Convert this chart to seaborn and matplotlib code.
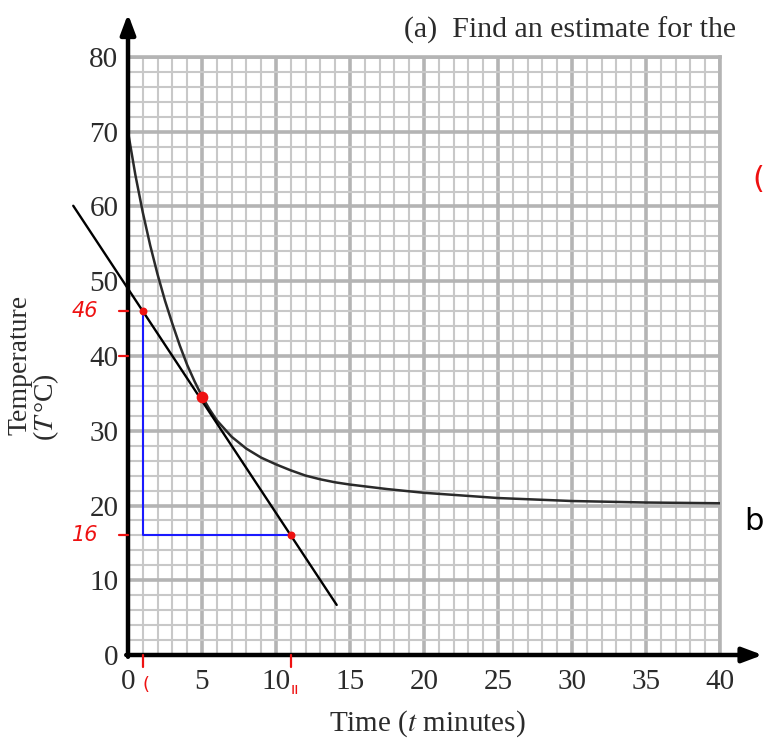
import matplotlib
matplotlib.use("Agg")
import matplotlib.pyplot as plt
import seaborn as sns
import pandas as pd
from matplotlib.ticker import MultipleLocator

# ---- data ----
time_min = [0, 0.5, 1, 1.5, 2, 2.5, 3, 3.5, 4, 4.5, 5, 5.5, 6, 7, 8, 9, 10, 11, 12, 13, 14, 15,
            17.5, 20, 25, 30, 35, 40]
temp_c = [70, 64.2, 59.2, 54.8, 50.9, 47.4, 44.3, 41.4, 38.8, 36.6, 34.6, 32.9, 31.4, 29.2, 27.6,
          26.4, 25.5, 24.7, 24.0, 23.5, 23.1, 22.8, 22.2, 21.7, 21.0, 20.6, 20.4, 20.3]
tangent_t = [-3.7, 14.1]
tangent_T = [60.1, 6.7]
marked_t = [1, 5, 11]
marked_T = [46, 34.5, 16]
x_ticks = [0, 5, 10, 15, 20, 25, 30, 35, 40]
y_ticks = [0, 10, 20, 30, 40, 50, 60, 70, 80]

sns.set_style("white")
plt.rcParams["font.family"] = ["Liberation Serif", "DejaVu Serif"]
plt.rcParams["mathtext.fontset"] = "stix"

fig = plt.figure(figsize=(7.66, 7.44), dpi=100)
ax = fig.add_axes([128 / 766, 89 / 744, 592 / 766, 598 / 744])
ax.set_xlim(0, 40)
ax.set_ylim(0, 80)

ax.xaxis.set_minor_locator(MultipleLocator(1))
ax.yaxis.set_minor_locator(MultipleLocator(2))
ax.set_xticks(x_ticks)
ax.set_yticks(y_ticks)
txtc = "#2b2b2b"
ax.set_xticklabels([str(v) for v in x_ticks], fontsize=21, color=txtc)
ax.set_yticklabels([str(v) for v in y_ticks], fontsize=21, color=txtc)
ax.tick_params(which="both", length=0)
ax.tick_params(axis="x", pad=10)
ax.tick_params(axis="y", pad=7)
ax.grid(which="minor", color="#c8c8c8", lw=1.5)
ax.grid(which="major", color="#b4b4b4", lw=2.6)
ax.set_axisbelow(True)
for s in ["left", "bottom"]:
    ax.spines[s].set_visible(False)
for s in ["top", "right"]:
    ax.spines[s].set_color("#b4b4b4")
    ax.spines[s].set_linewidth(2.6)

# axes arrows
ax.annotate("", xy=(0, 1.072), xytext=(0, -0.003), xycoords="axes fraction",
            arrowprops=dict(arrowstyle="-|>,head_length=1.2,head_width=0.45", color="black", lw=3.2,
                            shrinkA=0, shrinkB=0), annotation_clip=False, zorder=6)
ax.annotate("", xy=(1.072, 0), xytext=(-0.003, 0), xycoords="axes fraction",
            arrowprops=dict(arrowstyle="-|>,head_length=1.2,head_width=0.45", color="black", lw=3.2,
                            shrinkA=0, shrinkB=0), annotation_clip=False, zorder=6)

# cooling curve
curve = pd.DataFrame({"t": time_min, "T": temp_c})
sns.lineplot(data=curve, x="t", y="T", ax=ax, color="#2a2a2a", lw=1.8, zorder=4)

# tangent line
tang = pd.DataFrame({"t": tangent_t, "T": tangent_T})
sns.lineplot(data=tang, x="t", y="T", ax=ax, color="black", lw=1.7, zorder=4, clip_on=False)

# blue triangle legs
ax.plot([marked_t[0], marked_t[0], marked_t[2]], [marked_T[0], marked_T[2], marked_T[2]],
        color="#1a1aff", lw=1.5, zorder=4)

# red points
red = "#ee1111"
ax.scatter([marked_t[0], marked_t[2]], [marked_T[0], marked_T[2]], s=22, color=red, zorder=5)
ax.scatter([marked_t[1]], [marked_T[1]], s=55, color=red, zorder=5)

# red handwritten tick marks
for yv in [marked_T[0], marked_T[2], 40]:
    ax.plot([-0.6, 0], [yv, yv], color=red, lw=1.6, clip_on=False, zorder=7)
for xv in [marked_t[0], marked_t[2]]:
    ax.plot([xv, xv], [-1.6, 0], color=red, lw=1.6, clip_on=False, zorder=7)

ax.text(-2.0, 46, "46", color=red, fontsize=15, family="DejaVu Sans", style="italic",
        ha="right", va="center", clip_on=False)
ax.text(-2.0, 16, "16", color=red, fontsize=15, family="DejaVu Sans", style="italic",
        ha="right", va="center", clip_on=False)
ax.text(1.2, -4.0, "(", color=red, fontsize=13, family="DejaVu Sans", ha="center", va="center",
        clip_on=False)
ax.text(11.3, -4.6, "ıı", color=red, fontsize=11, family="DejaVu Sans", ha="center", va="center",
        clip_on=False)

# axis labels
ax.set_xlabel("")
ax.set_ylabel("")
fig.text(427 / 766, 1 - 724 / 744, "Time ($t$ minutes)", fontsize=21, ha="center", va="center",
         color=txtc)
fig.text(20 / 766, 1 - 365 / 744, "Temperature", fontsize=20, rotation=90, ha="center", va="center",
         color=txtc)
fig.text(46 / 766, 1 - 407 / 744, "($T\\,$°C)", fontsize=20, rotation=90, ha="center", va="center",
         color=txtc)

# question text at top
fig.text(404 / 766, 1 - 30 / 744, "(a)  Find an estimate for the", fontsize=21.5, ha="left",
         va="center", color=txtc)
fig.text(764 / 766, 1 - 180 / 744, "(", fontsize=22, color=red, family="DejaVu Sans",
         ha="right", va="center")
fig.text(764 / 766, 1 - 522 / 744, "b", fontsize=22, color="black", family="DejaVu Sans",
         ha="right", va="center")

fig.savefig("out.png", dpi=100)
